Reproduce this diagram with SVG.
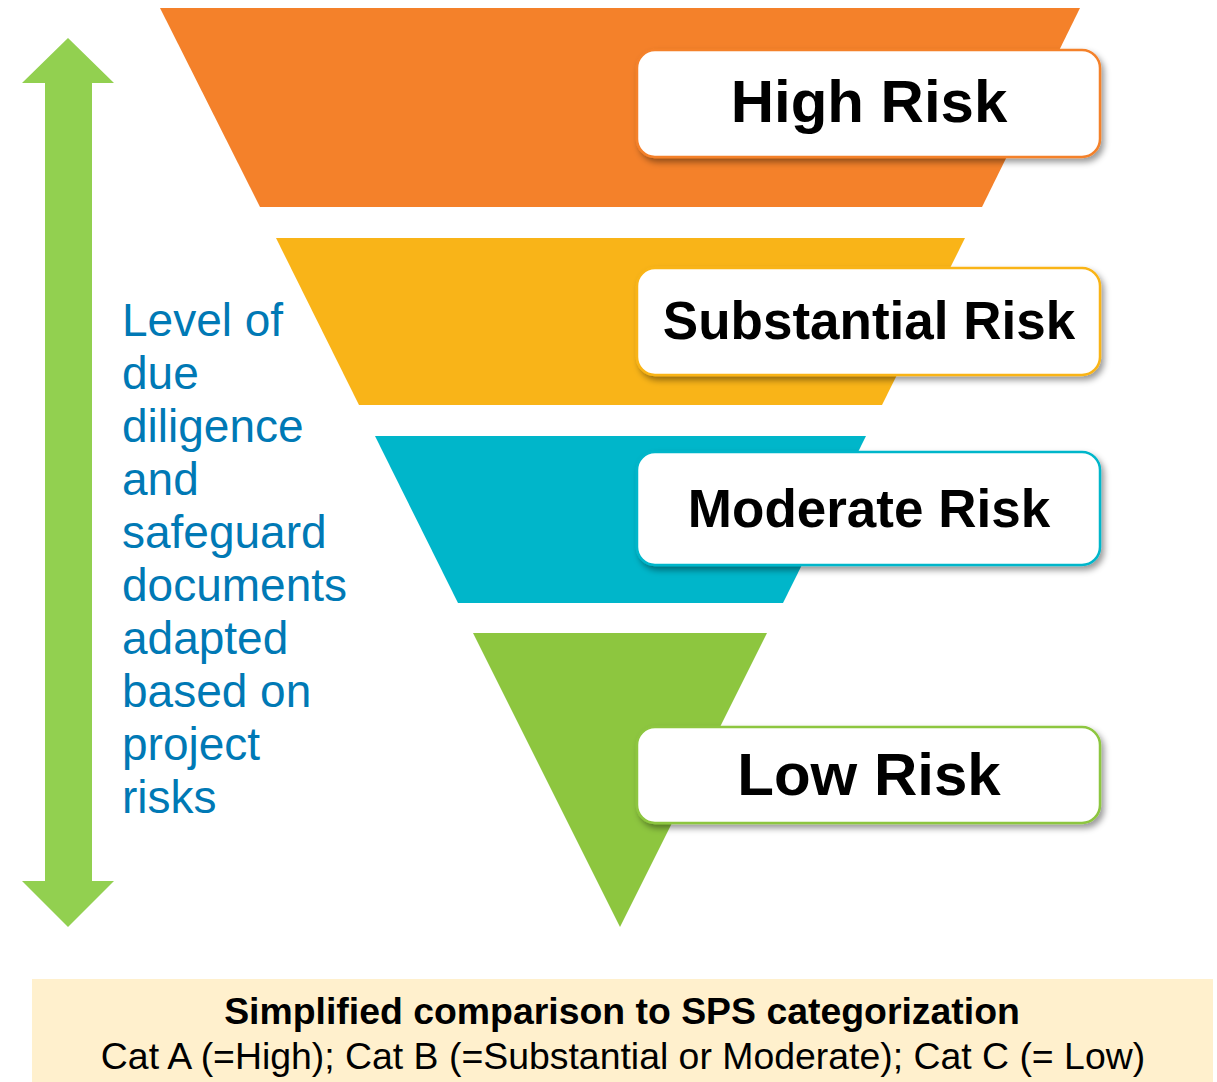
<svg xmlns="http://www.w3.org/2000/svg" width="1217" height="1082" viewBox="0 0 1217 1082">
<style>
.lbl{font-family:"Liberation Sans",Arial,sans-serif;font-weight:bold;fill:#000;text-anchor:middle}
.side{font-family:"Liberation Sans",Arial,sans-serif;font-size:46px;fill:#0079B5}
.box{fill:#fff;stroke-width:2.5}
.cap{font-family:"Liberation Sans",Arial,sans-serif;font-size:37.4px;fill:#000;text-anchor:middle}
</style>
<defs>
<filter id="sh" x="-10%" y="-20%" width="125%" height="150%">
<feDropShadow dx="3" dy="4" stdDeviation="3" flood-color="#000" flood-opacity="0.4"/>
</filter>
</defs>
<rect width="1217" height="1082" fill="#fff"/>
<g id="arrow">
<polygon points="68,38 114,83 92,83 92,881 114,881 68,927 22,881 45,881 45,83 22,83" fill="#92D050"/>
</g>
<g id="side-text" class="side">
<text x="122" y="336">Level of</text>
<text x="122" y="389">due</text>
<text x="122" y="442">diligence</text>
<text x="122" y="495">and</text>
<text x="122" y="548">safeguard</text>
<text x="122" y="601">documents</text>
<text x="122" y="654">adapted</text>
<text x="122" y="707">based on</text>
<text x="122" y="760">project</text>
<text x="122" y="813">risks</text>
</g>
<g id="high">
<polygon points="160,8 1080,8 982,207 260,207" fill="#F4812A"/>
<rect class="box" x="637" y="50" width="463" height="107" rx="18" stroke="#F4812A" filter="url(#sh)"/>
<text class="lbl" x="869" y="122" font-size="60">High Risk</text>
</g>
<g id="substantial">
<polygon points="276,238 965,238 882,405 359,405" fill="#F9B418"/>
<rect class="box" x="637" y="268" width="463" height="107" rx="18" stroke="#F9B418" filter="url(#sh)"/>
<text class="lbl" x="869" y="339" font-size="53">Substantial Risk</text>
</g>
<g id="moderate">
<polygon points="375,436 866,436 783,603 458,603" fill="#00B6CA"/>
<rect class="box" x="637" y="452" width="463" height="113" rx="18" stroke="#00B6CA" filter="url(#sh)"/>
<text class="lbl" x="869" y="527" font-size="53">Moderate Risk</text>
</g>
<g id="low">
<polygon points="473,633 767,633 620,927" fill="#8DC63F"/>
<rect class="box" x="637" y="727" width="463" height="96" rx="18" stroke="#8DC63F" filter="url(#sh)"/>
<text class="lbl" x="869" y="795" font-size="60">Low Risk</text>
</g>
<g id="connectors"></g>
<g id="legend">
<rect x="32" y="979" width="1181" height="103" fill="#FFF0CD"/>
<text class="cap" x="622" y="1024" font-weight="bold">Simplified comparison to SPS categorization</text>
<text class="cap" x="623" y="1069">Cat A (=High); Cat B (=Substantial or Moderate); Cat C (= Low)</text>
</g>
</svg>
